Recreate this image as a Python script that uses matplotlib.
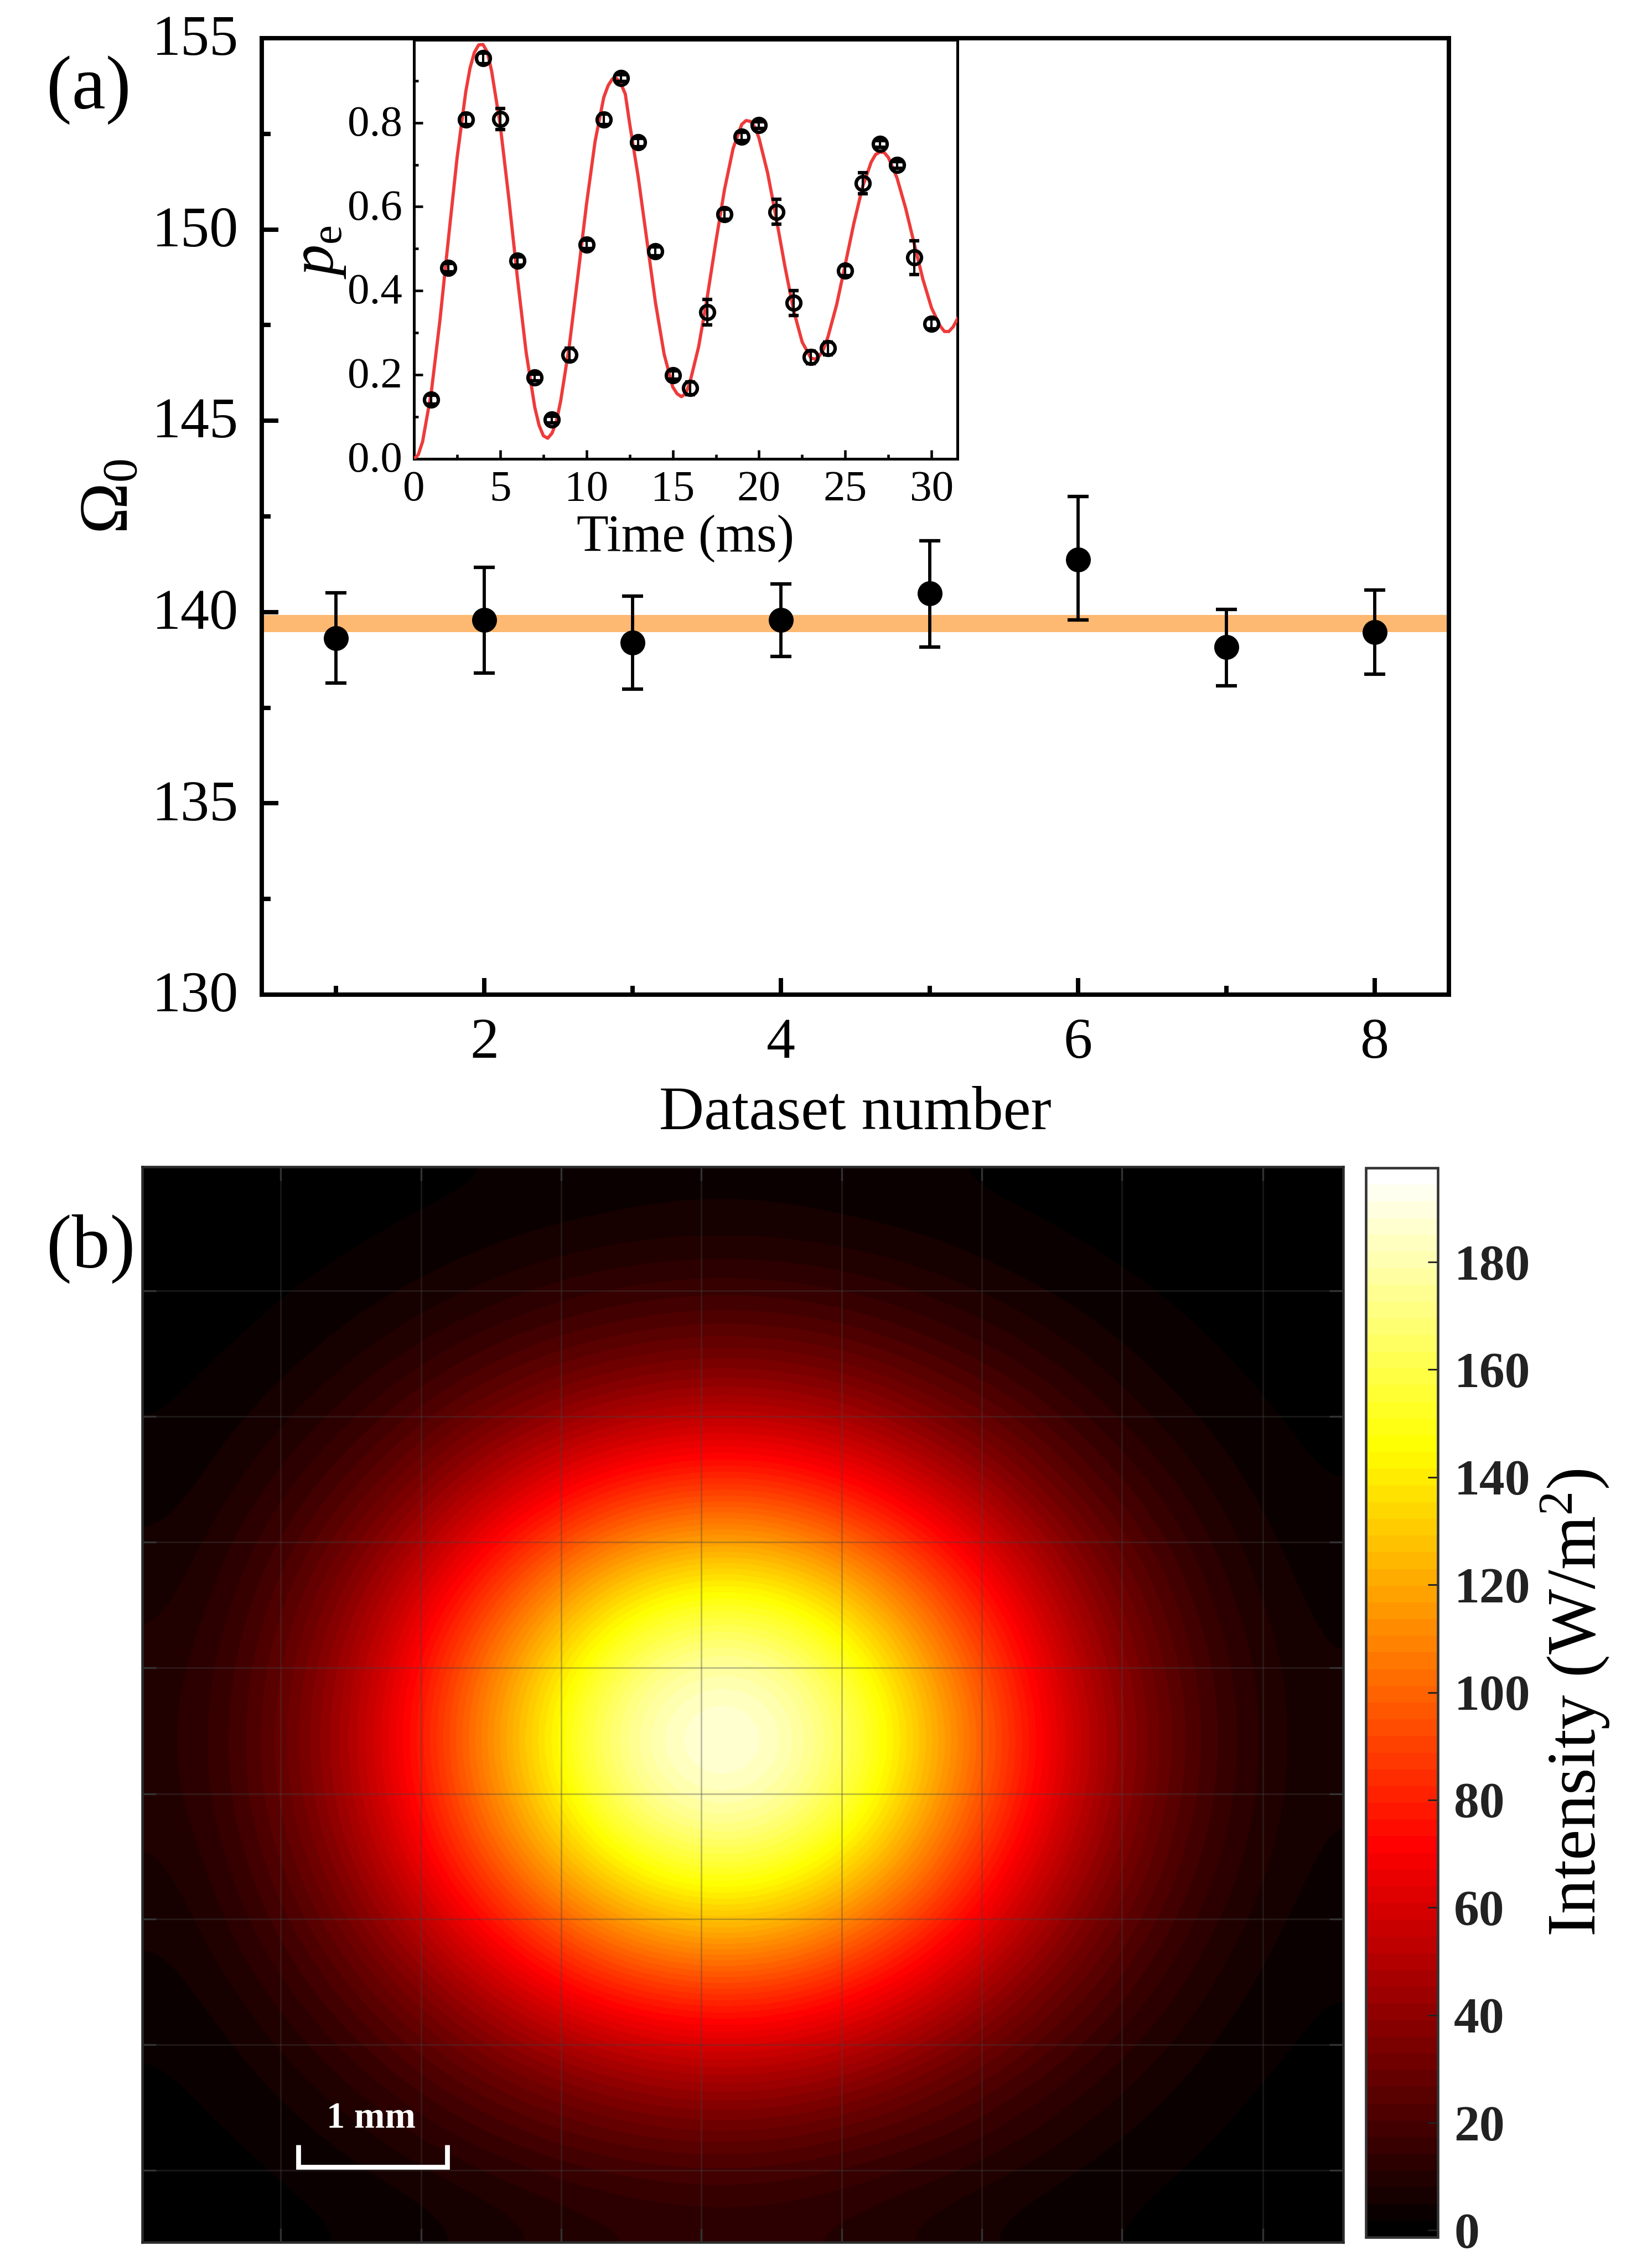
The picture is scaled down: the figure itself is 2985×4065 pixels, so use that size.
import matplotlib
matplotlib.use("Agg")
import matplotlib.pyplot as plt
from matplotlib.colors import LinearSegmentedColormap, Normalize
from matplotlib.ticker import MultipleLocator
from matplotlib.transforms import ScaledTranslation

plt.rcParams['font.family'] = ['Liberation Serif', 'DejaVu Serif']
plt.rcParams['mathtext.fontset'] = 'custom'
plt.rcParams['mathtext.rm'] = 'Liberation Serif'
plt.rcParams['mathtext.it'] = 'Liberation Serif:italic'
plt.rcParams['mathtext.bf'] = 'Liberation Serif:bold'

# panel (a), main
dataset = [1, 2, 3, 4, 5, 6, 7, 8]
omega = [139.31, 139.79, 139.20, 139.79, 140.49, 141.37, 139.08, 139.48]
omega_low = [138.14, 138.41, 137.98, 138.84, 139.08, 139.79, 138.08, 138.38]
omega_high = [140.50, 141.17, 140.42, 140.74, 141.87, 143.02, 140.07, 140.57]
band = [139.48, 139.93]

# panel (a), inset
time_ms = list(range(1, 31))
pe = [.141, .455, .808, .953, .809, .471, .194, .094, .248, .510,
      .808, .906, .753, .494, .199, .168, .349, .582, .767, .794,
      .588, .371, .242, .263, .448, .656, .749, .699, .479, .321]
pe_err = [.010, .010, .012, .012, .025, .010, .008, .008, .015, .010,
          .012, .008, .010, .010, .010, .015, .030, .012, .010, .008,
          .030, .030, .015, .015, .012, .025, .008, .008, .040, .012]
fit_t = [0, .25, .5, 1, 1.5, 2, 2.5, 3, 3.25, 3.5, 3.75, 4, 4.25, 4.5, 5, 5.5, 6, 6.5, 7, 7.25, 7.5, 7.75,
         8, 8.25, 8.5, 9, 9.5, 10, 10.5, 11, 11.25, 11.5, 11.75, 12, 12.25, 12.5, 13, 13.5, 14, 14.5, 15, 15.25, 15.5, 15.75,
         16, 16.5, 17, 17.5, 18, 18.5, 19, 19.25, 19.5, 19.75, 20, 20.5, 21, 21.5, 22, 22.5, 23, 23.25, 23.5, 23.75,
         24, 24.5, 25, 25.5, 26, 26.5, 26.75, 27, 27.25, 27.5, 28, 28.5, 29, 29.5, 30, 30.5, 30.75, 31, 31.25, 31.5]
fit_p = [0, .010, .041, .157, .328, .525, .717, .873, .930, .967, .985, .986, .968, .923, .794, .619, .429, .254, .123, .080, .055, .049,
         .061, .088, .137, .268, .435, .606, .756, .860, .888, .904, .905, .892, .868, .798, .670, .520, .371, .249, .171, .155, .148, .155,
         .183, .267, .385, .517, .641, .739, .796, .805, .803, .790, .763, .680, .572, .458, .354, .278, .240, .237, .245, .262,
         .291, .367, .463, .561, .647, .706, .724, .730, .729, .717, .668, .596, .511, .427, .359, .316, .303, .303, .314, .333]

# panel (b), intensity read on a coarse grid (W/m^2), top row first
intensity = [
    [.3, .5, .8, 1.1, 1.6, 2.5, 3.3, 3.8, 3.6, 2.8, 2, 1.3, 1, .6, .4, .3],
    [.5, .9, 1.4, 2.9, 5.6, 8.5, 10.6, 11.7, 11.2, 9.6, 7, 4, 2, 1.1, .7, .4],
    [.9, 1.5, 4, 8.6, 13.8, 19, 23, 25.4, 24.7, 21.2, 16, 11, 5.9, 2.5, 1.1, .6],
    [1.4, 3.9, 9.4, 17, 26, 35.5, 43, 47, 45.5, 40, 30, 21, 12.8, 5.8, 2.3, 1],
    [2.5, 8, 16.5, 28, 44, 60, 72, 78, 76, 66, 51, 35, 21, 11.7, 4.6, 1.5],
    [5, 12.8, 25, 42, 65, 88, 107, 116, 113, 97, 76, 53, 32.5, 18, 8, 2.5],
    [7, 17, 33, 57, 86, 117, 142, 154, 150, 130, 100, 70, 43, 24, 11, 3.8],
    [9, 20, 39, 67, 103, 138, 168, 183, 178, 154, 119, 83, 51, 28, 13.8, 5],
    [9.6, 21, 41, 71, 108, 147, 179, 194, 188, 163, 127, 88, 55, 30, 14.5, 5.3],
    [9, 20.5, 39, 67, 103, 139, 170, 184, 179, 155, 120, 84, 52, 28, 13.8, 5],
    [7, 17, 33, 58, 87, 118, 143, 156, 151, 131, 102, 70, 44, 24, 11.5, 3.9],
    [5, 13, 25, 43, 66, 89, 109, 118, 115, 99, 77, 54, 33, 18, 8, 2.6],
    [2.7, 8, 17, 29, 44, 61, 73, 79, 77, 67, 53, 36, 22, 12, 4.7, 1.5],
    [1.4, 4, 9.8, 17.5, 27, 36, 44, 48, 47, 41, 31, 21, 13, 6.3, 2.2, 1.1],
    [.9, 1.6, 4.2, 8.9, 14.5, 20, 24, 26, 25, 21, 16.5, 11.5, 6.2, 2.7, 1.2, .6],
    [.5, .9, 1.5, 3, 5.7, 8.9, 11, 12, 11.7, 10, 7, 4.3, 2.3, 1.2, .7, .4],
]
cbar_ticks = [0, 20, 40, 60, 80, 100, 120, 140, 160, 180]
img_width_mm = 7.98
img_height_mm = 7.14
grid_x_mm = [.921, 1.853, 2.784, 3.715, 4.647, 5.578, 6.51, 7.446]
grid_y_mm = [.479, 1.312, 2.145, 2.978, 3.816, 4.649, 5.482, 6.316]
scale_bar_x = [1.037, 1.037, 2.026, 2.026]
scale_bar_y = [.647, .50, .50, .647]

W, H, DPI = 2985, 4065, 300


def px_axes(fig, left, top, right, bottom):
    return fig.add_axes([left / W, 1 - bottom / H, (right - left) / W, (bottom - top) / H])


def nudge_labels(ax, fig, points):
    # reference tick labels sit slightly above their ticks
    for lab in ax.get_yticklabels():
        lab.set_transform(lab.get_transform() + ScaledTranslation(0, points / 72, fig.dpi_scale_trans))


fig = plt.figure(figsize=(W / DPI, H / DPI), dpi=DPI)

# main panel
ax = px_axes(fig, 473, 69, 2618, 1797)
ax.axhspan(band[0], band[1], color='#fdb871', lw=0, zorder=1)
ax.errorbar(dataset, omega,
            yerr=[[m - l for m, l in zip(omega, omega_low)], [h - m for m, h in zip(omega, omega_high)]],
            fmt='o', color='k', ms=9.8, elinewidth=1.4, capsize=4.5, capthick=1.5, zorder=3)
ax.set_xlim(.5, 8.5)
ax.set_ylim(130, 155)
ax.xaxis.set_major_locator(MultipleLocator(2))
ax.xaxis.set_minor_locator(MultipleLocator(1))
ax.yaxis.set_major_locator(MultipleLocator(5))
ax.yaxis.set_minor_locator(MultipleLocator(2.5))
ax.tick_params(which='major', direction='in', length=7.2, width=1.9, labelsize=25, pad=10)
ax.tick_params(which='minor', direction='in', length=3.8, width=1.9)
for s in ax.spines.values():
    s.set_linewidth(1.9)
ax.set_xlabel('Dataset number', fontsize=27, labelpad=7)
ax.set_ylabel(r'$\Omega_0$', fontsize=30)
ax.yaxis.set_label_coords(-.1, .521)
nudge_labels(ax, fig, 1.4)

# inset
ins = px_axes(fig, 748, 72, 1730, 829)
ins.plot(fit_t, fit_p, color='#ee3b3b', lw=1.4, zorder=3)
ins.errorbar(time_ms, pe, yerr=pe_err, fmt='o', mfc='none', mec='k', ecolor='k', ms=6, mew=1.5,
             elinewidth=1, capsize=2.2, capthick=1, zorder=4)
ins.set_xlim(0, 31.5)
ins.set_ylim(0, .997)
ins.xaxis.set_major_locator(MultipleLocator(5))
ins.xaxis.set_minor_locator(MultipleLocator(2.5))
ins.yaxis.set_major_locator(MultipleLocator(.2))
ins.yaxis.set_minor_locator(MultipleLocator(.1))
ins.tick_params(which='major', direction='in', length=3.8, width=1.1, labelsize=19, pad=5)
ins.tick_params(which='minor', direction='in', length=2, width=1.1)
for s in ins.spines.values():
    s.set_linewidth(1.2)
ins.set_xlabel('Time (ms)', fontsize=22.7, labelpad=2)
ins.set_ylabel(r'$p_{\mathrm{e}}$', fontsize=27)
ins.yaxis.set_label_coords(-.122, .494)
nudge_labels(ins, fig, 1)

# beam image
cmap = LinearSegmentedColormap.from_list(
    'beam', [(0, '#000000'), (.363, '#ff0000'), (.742, '#ffff00'), (1, '#ffffff')], N=64)
norm = Normalize(-1.3, 197.5)
im_ax = px_axes(fig, 257, 2108, 2427, 4051)
im = im_ax.imshow(intensity, cmap=cmap, norm=norm, aspect='auto', interpolation='bicubic',
                  extent=[0, img_width_mm, 0, img_height_mm])
im_ax.set_xticks(grid_x_mm)
im_ax.set_yticks(grid_y_mm)
im_ax.tick_params(direction='in', length=6, width=.8, color='#333333', left=True, right=True,
                  top=True, bottom=True, labelleft=False, labelbottom=False)
im_ax.grid(True, color='#444444', lw=.7, alpha=.35)
for s in im_ax.spines.values():
    s.set_linewidth(1.1)
    s.set_color('#2b2b2b')
im_ax.plot(scale_bar_x, scale_bar_y, color='w', lw=2.1, solid_joinstyle='miter', solid_capstyle='butt')
im_ax.text(1.52, .71, '1 mm', color='w', fontsize=16, fontweight='bold', ha='center', va='bottom')
im_ax.set_xlim(0, img_width_mm)
im_ax.set_ylim(0, img_height_mm)

cax = px_axes(fig, 2468, 2110, 2598, 4042)
cb = fig.colorbar(im, cax=cax, ticks=cbar_ticks)
cb.ax.tick_params(direction='in', length=4.4, width=.7, color='#222222', labelcolor='#222222',
                  labelsize=22, pad=7)
for lab in cb.ax.get_yticklabels():
    lab.set_fontweight('bold')
cb.outline.set_linewidth(1.1)
cb.outline.set_edgecolor('#333333')
cb.set_label('Intensity (W/m$^2$)', fontsize=30, labelpad=4)

fig.text(84 / W, 1 - 163 / H, '(a)', fontsize=33, va='center', ha='left')
fig.text(84 / W, 1 - 2256 / H, '(b)', fontsize=33, va='center', ha='left')

fig.savefig('out.png', dpi=DPI)
